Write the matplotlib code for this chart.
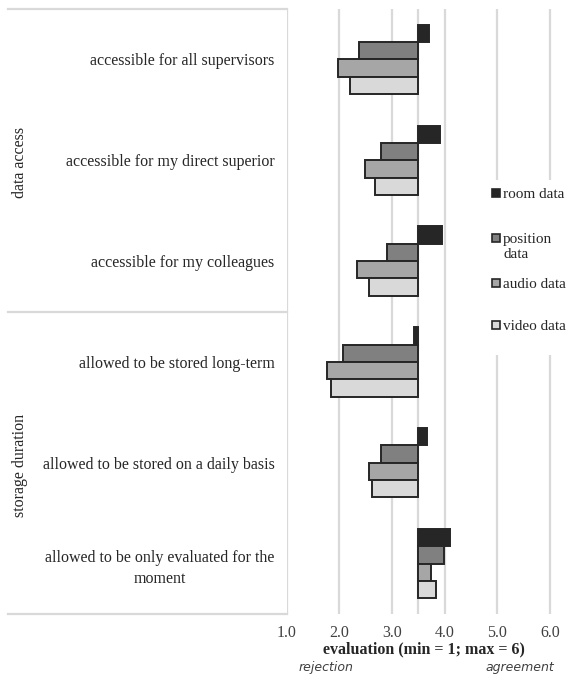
import matplotlib
matplotlib.use("Agg")
import matplotlib.pyplot as plt
from matplotlib.patches import Rectangle
from matplotlib.lines import Line2D

categories = [
    "accessible for all supervisors",
    "accessible for my direct superior",
    "accessible for my colleagues",
    "allowed to be stored long-term",
    "allowed to be stored on a daily basis",
    "allowed to be only evaluated for the\nmoment",
]
groups = ["data access", "storage duration"]
series_names = ["room data", "position\ndata", "audio data", "video data"]
room = [3.70, 3.92, 3.96, 3.41, 3.66, 4.10]
position = [2.37, 2.79, 2.90, 2.07, 2.79, 3.99]
audio = [1.98, 2.49, 2.34, 1.77, 2.56, 3.75]
video = [2.20, 2.68, 2.56, 1.84, 2.63, 3.84]
xticks = [1.0, 2.0, 3.0, 4.0, 5.0, 6.0]
xtick_labels = ["1.0", "2.0", "3.0", "4.0", "5.0", "6.0"]
midpoint = 3.5

colors = ["#262626", "#808080", "#a6a6a6", "#d9d9d9"]
edge = "#262626"
serif = "Liberation Serif"
fs = 11.5

W, H = 568, 682
fig = plt.figure(figsize=(W / 100, H / 100), dpi=100)
px_per_unit = 52.7
x0 = 286.5
xmax = 6.35
top_px, bot_px = 9, 614
ax = fig.add_axes([x0 / W, (H - bot_px) / H, (xmax - 1.0) * px_per_unit / W, (bot_px - top_px) / H])

n = len(categories)
h = 0.172
offsets = [-1.5 * h, -0.5 * h, 0.5 * h, 1.5 * h]
data = [room, position, audio, video]
for vals, off, col in zip(data, offsets, colors):
    ys = [i + off for i in range(n)]
    ax.barh(ys, [v - midpoint for v in vals], left=midpoint, height=h,
            color=col, edgecolor=edge, linewidth=1.4, zorder=3)

ax.set_xlim(1.0, xmax)
ax.set_ylim(n - 0.5, -0.5)
ax.set_xticks(xticks)
ax.set_xticklabels(xtick_labels, fontfamily=serif, fontsize=fs, color="#404040")
ax.xaxis.grid(True, color="#d9d9d9", linewidth=1.6, zorder=0)
ax.axvline(midpoint, color="#d9d9d9", linewidth=1.6, zorder=1)
ax.tick_params(axis="x", length=0, pad=8)
ax.set_yticks(range(n))
ax.set_yticklabels(categories, fontfamily=serif, fontsize=fs, color="#262626")
for lab in ax.get_yticklabels():
    lab.set_multialignment("center")
    lab.set_linespacing(1.45)
ax.tick_params(axis="y", length=0, pad=8.5)
for s in ax.spines.values():
    s.set_visible(False)

# left table lines
lc = "#d9d9d9"
def fline(x1, y1, x2, y2):
    fig.add_artist(Line2D([x1 / W, x2 / W], [1 - y1 / H, 1 - y2 / H],
                          transform=fig.transFigure, color=lc, linewidth=1.6))
fline(8, top_px, x0, top_px)
fline(8, 312, x0, 312)
fline(8, bot_px, x0, bot_px)

fig.text(20 / W, 1 - 162 / H, groups[0], rotation=90, ha="center", va="center",
         fontfamily=serif, fontsize=fs, color="#262626")
fig.text(20 / W, 1 - 465 / H, groups[1], rotation=90, ha="center", va="center",
         fontfamily=serif, fontsize=fs, color="#262626")

fig.text(424 / W, 1 - 649 / H, "evaluation (min = 1; max = 6)", ha="center", va="center",
         fontfamily=serif, fontweight="bold", fontsize=fs, color="#262626")
fig.text(326 / W, 1 - 668 / H, "rejection", ha="center", va="center",
         fontfamily="DejaVu Sans", style="italic", fontsize=9, color="#404040")
fig.text(520 / W, 1 - 668 / H, "agreement", ha="center", va="center",
         fontfamily="DejaVu Sans", style="italic", fontsize=9, color="#404040")

# legend (Excel-style, placed like the original)
fig.add_artist(Rectangle((487 / W, 1 - 355 / H), (W - 487) / W, 175 / H,
                         transform=fig.transFigure, facecolor="white", edgecolor="none", zorder=5))
leg_y = [193, 238, 283, 325]
for name, col, yy in zip(series_names, colors, leg_y):
    fig.add_artist(Rectangle((492 / W, 1 - (yy + 4) / H), 8 / W, 8 / H,
                             transform=fig.transFigure, facecolor=col, edgecolor=edge,
                             linewidth=1.2, zorder=6))
    fig.text(503 / W, 1 - (yy - 5) / H, name, ha="left", va="top", fontfamily=serif,
             fontsize=11, color="#262626", linespacing=1.25, zorder=6)

fig.savefig("out.png", dpi=100)
